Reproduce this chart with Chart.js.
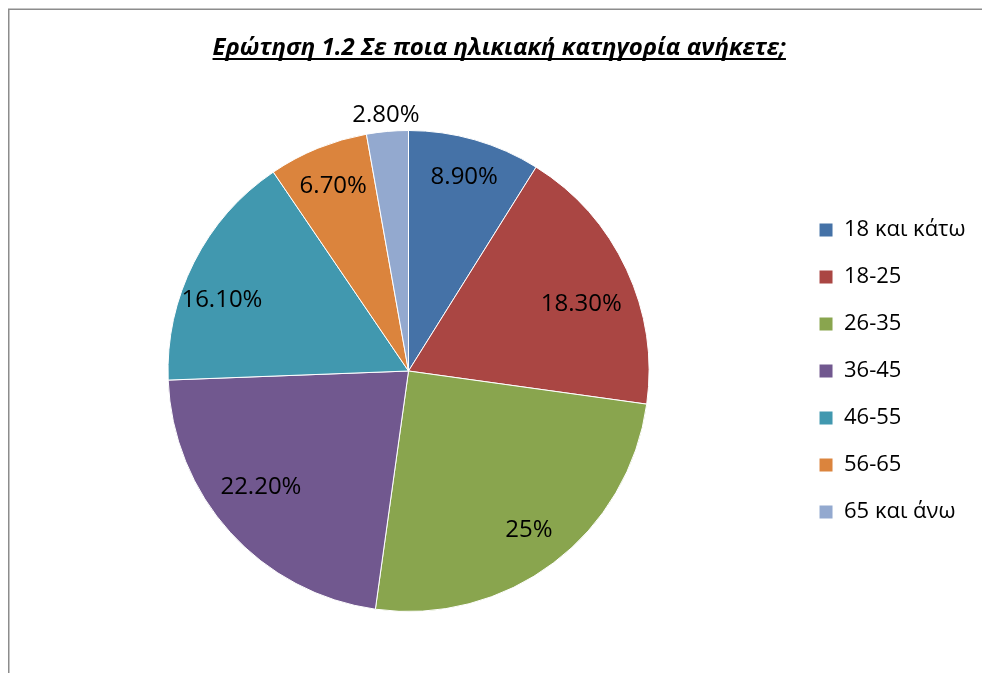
<!DOCTYPE html>
<html>
<head>
<meta charset="utf-8">
<script src="https://cdn.jsdelivr.net/npm/chart.js@4"></script>
<style>
  html, body { margin: 0; padding: 0; background: #ffffff; }
  #wrap { width: 982px; height: 673px; position: relative; }
</style>
</head>
<body>
<div id="wrap"><canvas id="c" width="982" height="673"></canvas></div>
<script>
const titleText = "Ερώτηση 1.2 Σε ποια ηλικιακή κατηγορία ανήκετε;";
const categories = ["18 και κάτω", "18-25", "26-35", "36-45", "46-55", "56-65", "65 και άνω"];
const percentValues = [8.9, 18.3, 25, 22.2, 16.1, 6.7, 2.8];
const valueLabels = ["8.90%", "18.30%", "25%", "22.20%", "16.10%", "6.70%", "2.80%"];
const sliceColors = ["#4572A7", "#AA4643", "#89A54E", "#71588F", "#4198AF", "#DB843D", "#93A9CF"];

const FONT = "'Open Sans', 'Noto Sans', 'DejaVu Sans', sans-serif";

const framePlugin = {
  id: 'frame',
  beforeDraw(chart) {
    const ctx = chart.ctx;
    ctx.save();
    ctx.fillStyle = '#ffffff';
    ctx.fillRect(0, 0, chart.width, chart.height);
    ctx.strokeStyle = '#8c8c8c';
    ctx.lineWidth = 1.5;
    ctx.strokeRect(8.75, 9.25, 1200, 900);
    ctx.restore();
  },
  afterDraw(chart) {
    const t = chart.titleBlock;
    if (!t) return;
    const ctx = chart.ctx;
    const opts = chart.options.plugins.title;
    ctx.save();
    ctx.font = Chart.helpers.toFont(opts.font).string;
    const w = ctx.measureText(titleText).width;
    const cx = (t.left + t.right) / 2;
    ctx.fillStyle = '#000000';
    ctx.fillRect(cx - w / 2, 58, w, 2);
    ctx.restore();
  }
};

// label placement (best-fit style): angle shift in degrees and radius fraction per slice
const labelPlacement = {
  shift: [0, 4, 0, 4, -6, 0, 0],
  radius: [0.84, 0.77, 0.83, 0.78, 0.83, 0.83, 1.07]
};

const labelPlugin = {
  id: 'sliceLabels',
  afterDatasetsDraw(chart) {
    const ctx = chart.ctx;
    const meta = chart.getDatasetMeta(0);
    ctx.save();
    ctx.font = "24px " + FONT;
    ctx.fillStyle = '#000000';
    ctx.textAlign = 'center';
    ctx.textBaseline = 'middle';
    meta.data.forEach((arc, i) => {
      const p = arc.getProps(['x', 'y', 'startAngle', 'endAngle', 'outerRadius']);
      const mid = (p.startAngle + p.endAngle) / 2 + labelPlacement.shift[i] * Math.PI / 180;
      const r = p.outerRadius * labelPlacement.radius[i];
      ctx.fillText(valueLabels[i], p.x + Math.cos(mid) * r, p.y + Math.sin(mid) * r);
    });
    ctx.restore();
  }
};

new Chart(document.getElementById('c'), {
  type: 'pie',
  data: {
    labels: categories,
    datasets: [{
      data: percentValues,
      backgroundColor: sliceColors,
      borderColor: '#ffffff',
      borderWidth: 1
    }]
  },
  options: {
    responsive: false,
    devicePixelRatio: 1,
    animation: false,
    layout: { padding: { left: 23, right: 6.5, top: 0, bottom: 61 } },
    plugins: {
      title: {
        display: true,
        text: titleText,
        color: '#000000',
        font: { family: FONT, size: 24, weight: 'bold', style: 'italic', lineHeight: 1.2 },
        padding: { top: 33.6, bottom: 67.6 }
      },
      legend: {
        position: 'right',
        align: 'center',
        fullSize: false,
        labels: {
          boxWidth: 14,
          boxHeight: 14,
          padding: 25,
          color: '#000000',
          font: { family: FONT, size: 22 }
        }
      },
      tooltip: { enabled: false }
    }
  },
  plugins: [framePlugin, labelPlugin]
});
</script>
</body>
</html>
